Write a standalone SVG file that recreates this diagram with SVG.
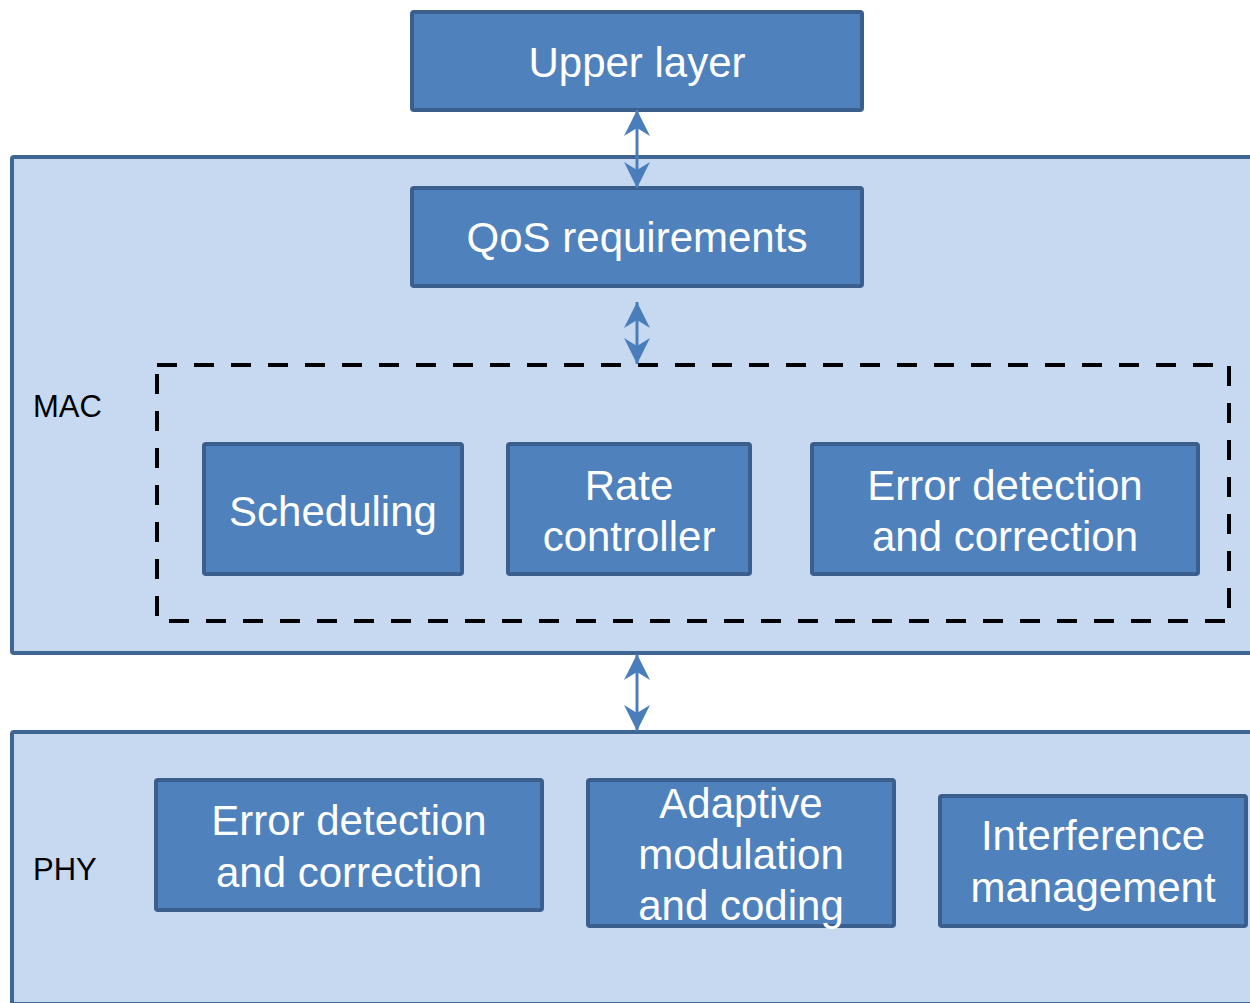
<svg xmlns="http://www.w3.org/2000/svg" width="1250" height="1003" viewBox="0 0 1250 1003">
<defs>
<style>
.layer{fill:#C6D9F1;stroke:#3F6592;stroke-width:4}
.box{fill:#4F81BD;stroke:#3A5F8D;stroke-width:4}
.t{font-family:"Liberation Sans",Arial,sans-serif;font-size:42px;fill:#FFFFFF;text-anchor:middle}
.lbl{font-family:"Liberation Sans",Arial,sans-serif;font-size:31px;fill:#000000}
.conn{stroke:#4A7EBB;stroke-width:3;fill:none;marker-start:url(#ah);marker-end:url(#ah)}
</style>
<marker id="ah" viewBox="0 0 26 26" refX="26" refY="13" markerWidth="26" markerHeight="26" markerUnits="userSpaceOnUse" orient="auto-start-reverse">
<path d="M0,0 L26,13 L0,26 L8,13 Z" fill="#4A7EBB"/>
</marker>
</defs>
<rect width="1250" height="1003" fill="#FFFFFF"/>
<g id="mac-layer">
<rect class="layer" x="12" y="157" width="1300" height="496" rx="2"/>
<text class="lbl" x="33" y="417">MAC</text>
</g>
<g id="phy-layer">
<rect class="layer" x="12" y="732" width="1300" height="272" rx="2"/>
<text class="lbl" x="33" y="880">PHY</text>
</g>
<g id="mac-group">
<rect x="157" y="365" width="1072" height="256" fill="none" stroke="#000000" stroke-width="4" stroke-dasharray="20 17"/>
</g>
<g id="upper-layer">
<rect class="box" x="412" y="12" width="450" height="98" rx="2"/>
<text class="t" x="637" y="77">Upper layer</text>
</g>
<g id="qos">
<rect class="box" x="412" y="188" width="450" height="98" rx="2"/>
<text class="t" x="637" y="252">QoS requirements</text>
</g>
<g id="scheduling">
<rect class="box" x="204" y="444" width="258" height="130" rx="2"/>
<text class="t" x="333" y="526">Scheduling</text>
</g>
<g id="rate-controller">
<rect class="box" x="508" y="444" width="242" height="130" rx="2"/>
<text class="t" x="629" y="500">Rate</text>
<text class="t" x="629" y="551">controller</text>
</g>
<g id="mac-error">
<rect class="box" x="812" y="444" width="386" height="130" rx="2"/>
<text class="t" x="1005" y="500">Error detection</text>
<text class="t" x="1005" y="551">and correction</text>
</g>
<g id="phy-error">
<rect class="box" x="156" y="780" width="386" height="130" rx="2"/>
<text class="t" x="349" y="835">Error detection</text>
<text class="t" x="349" y="887">and correction</text>
</g>
<g id="amc">
<rect class="box" x="588" y="780" width="306" height="146" rx="2"/>
<text class="t" x="741" y="818">Adaptive</text>
<text class="t" x="741" y="869">modulation</text>
<text class="t" x="741" y="920">and coding</text>
</g>
<g id="interference">
<rect class="box" x="940" y="796" width="306" height="130" rx="2"/>
<text class="t" x="1093" y="850">Interference</text>
<text class="t" x="1093" y="902">management</text>
</g>
<g id="connectors">
<line class="conn" x1="637" y1="110" x2="637" y2="188"/>
<line class="conn" x1="637" y1="302" x2="637" y2="364"/>
<line class="conn" x1="637" y1="654" x2="637" y2="731"/>
</g>
</svg>
